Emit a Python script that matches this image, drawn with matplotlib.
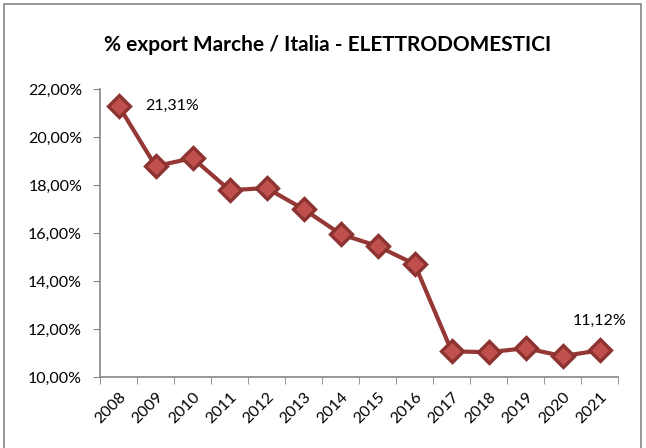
import matplotlib
matplotlib.use("Agg")
import matplotlib.pyplot as plt
from matplotlib.patches import Rectangle
import numpy as np

# dati
anni = ['2008', '2009', '2010', '2011', '2012', '2013', '2014',
        '2015', '2016', '2017', '2018', '2019', '2020', '2021']
quota = [21.31, 18.79, 19.13, 17.79, 17.88, 17.00, 15.96,
         15.46, 14.71, 11.08, 11.04, 11.21, 10.88, 11.12]
y_ticks = [10, 12, 14, 16, 18, 20, 22]

plt.rcParams['font.family'] = ['Lato', 'DejaVu Sans']

fig = plt.figure(figsize=(6.46, 4.48), dpi=100)
ax = fig.add_axes([0.155, 0.158, 0.802, 0.643])

x = np.arange(len(anni))
ax.plot(x, quota, color='#953735', lw=3.0, marker='D', ms=11.5,
        markerfacecolor='#C0504D', markeredgecolor='#8C3331', markeredgewidth=2.4,
        zorder=3)

# etichette primo e ultimo valore
ax.annotate(f"{quota[0]:.2f}%".replace('.', ','), (x[0], quota[0]),
            xytext=(19, 0), textcoords='offset points', va='center', ha='left', fontsize=11.5)
ax.annotate(f"{quota[-1]:.2f}%".replace('.', ','), (x[-1], quota[-1]),
            xytext=(0, 21), textcoords='offset points', va='center', ha='center', fontsize=11.5)

ax.set_xlim(-0.5, len(anni) - 0.5)
ax.set_ylim(10, 22)
ax.set_yticks(y_ticks)
ax.set_yticklabels([f"{v:.2f}%".replace('.', ',') for v in y_ticks], fontsize=11.5)
ax.set_xticks(x)
ax.set_xticklabels(anni, rotation=45, ha='right', rotation_mode='anchor', fontsize=11.5)
ax.set_xticks(np.arange(-0.5, len(anni)), minor=True)
ax.tick_params(axis='x', which='major', length=0, pad=9)
ax.tick_params(axis='x', which='minor', length=5, color='#868686')
ax.tick_params(axis='y', length=5, color='#868686', pad=8)

for s in ['top', 'right']:
    ax.spines[s].set_visible(False)
for s in ['left', 'bottom']:
    ax.spines[s].set_color('#868686')
    ax.spines[s].set_linewidth(1.2)

fig.text(0.507, 0.9, "% export Marche / Italia - ELETTRODOMESTICI",
         ha='center', va='center', fontsize=15, fontweight='bold')

# cornice del grafico
fig.patches.append(Rectangle((0.006, -0.01), 0.987, 1.0, transform=fig.transFigure,
                             fill=False, edgecolor='#868686', lw=1.2))

fig.savefig("out.png", dpi=100)
